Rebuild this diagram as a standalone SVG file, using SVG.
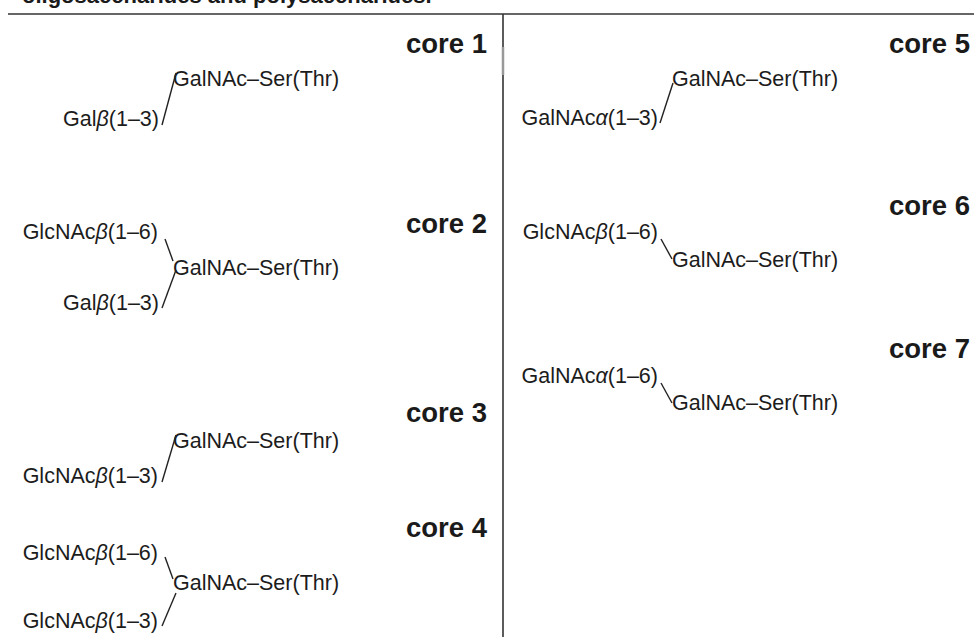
<svg xmlns="http://www.w3.org/2000/svg" width="974" height="637" viewBox="0 0 974 637">
<style>
.t{font-family:"Liberation Sans",Arial,sans-serif;font-size:21.5px;fill:#1c1c1c}
.e{text-anchor:end}
.c{font-family:"Liberation Sans",Arial,sans-serif;font-size:27.5px;font-weight:bold;fill:#1a1a1a;text-anchor:end}
.i{font-style:italic}
.ln{stroke:#222;stroke-width:1.4;fill:none}
.rule{stroke:#333;stroke-width:1.6}
</style>
<rect width="974" height="637" fill="#fff"/>
<text x="22" y="3" font-family="Liberation Sans,Arial,sans-serif" font-size="22" font-weight="bold" fill="#1a1a1a">oligosaccharides and polysaccharides.</text>
<g id="frame">
<line class="rule" x1="8" y1="14" x2="974" y2="14"/>
<line class="rule" x1="503" y1="14" x2="503" y2="637"/>
<line x1="503" y1="47" x2="503" y2="75" stroke="#999" stroke-width="2.5"/>
</g>
<g id="core1">
<text class="c" x="487" y="53">core 1</text>
<text class="t" x="173" y="86">GalNAc–Ser(Thr)</text>
<text class="t e" x="159" y="126">Gal<tspan class="i">β</tspan>(1–3)</text>
</g>
<g id="core2">
<text class="c" x="487" y="233">core 2</text>
<text class="t e" x="158" y="239">GlcNAc<tspan class="i">β</tspan>(1–6)</text>
<text class="t" x="173" y="275">GalNAc–Ser(Thr)</text>
<text class="t e" x="159" y="310">Gal<tspan class="i">β</tspan>(1–3)</text>
</g>
<g id="core3">
<text class="c" x="487" y="422">core 3</text>
<text class="t" x="173" y="448">GalNAc–Ser(Thr)</text>
<text class="t e" x="158" y="483">GlcNAc<tspan class="i">β</tspan>(1–3)</text>
</g>
<g id="core4">
<text class="c" x="487" y="537">core 4</text>
<text class="t e" x="158" y="560">GlcNAc<tspan class="i">β</tspan>(1–6)</text>
<text class="t" x="173" y="590">GalNAc–Ser(Thr)</text>
<text class="t e" x="158" y="628">GlcNAc<tspan class="i">β</tspan>(1–3)</text>
</g>
<g id="core5">
<text class="c" x="970" y="53">core 5</text>
<text class="t" x="672" y="86">GalNAc–Ser(Thr)</text>
<text class="t e" x="658" y="125">GalNAc<tspan class="i">α</tspan>(1–3)</text>
</g>
<g id="core6">
<text class="c" x="970" y="215">core 6</text>
<text class="t e" x="658" y="239">GlcNAc<tspan class="i">β</tspan>(1–6)</text>
<text class="t" x="672" y="267">GalNAc–Ser(Thr)</text>
</g>
<g id="core7">
<text class="c" x="970" y="358">core 7</text>
<text class="t e" x="658" y="383">GalNAc<tspan class="i">α</tspan>(1–6)</text>
<text class="t" x="672" y="410">GalNAc–Ser(Thr)</text>
</g>
<g id="connectors">
<line class="ln" x1="162" y1="125" x2="176" y2="73"/>
<line class="ln" x1="165" y1="239" x2="173" y2="261"/>
<line class="ln" x1="162" y1="308" x2="176" y2="270"/>
<line class="ln" x1="162" y1="482" x2="176" y2="435"/>
<line class="ln" x1="165" y1="557" x2="173" y2="579"/>
<line class="ln" x1="162" y1="626" x2="176" y2="593"/>
<line class="ln" x1="660" y1="123" x2="673" y2="83"/>
<line class="ln" x1="661" y1="239" x2="672" y2="259"/>
<line class="ln" x1="661" y1="383" x2="672" y2="403"/>
</g>
</svg>
